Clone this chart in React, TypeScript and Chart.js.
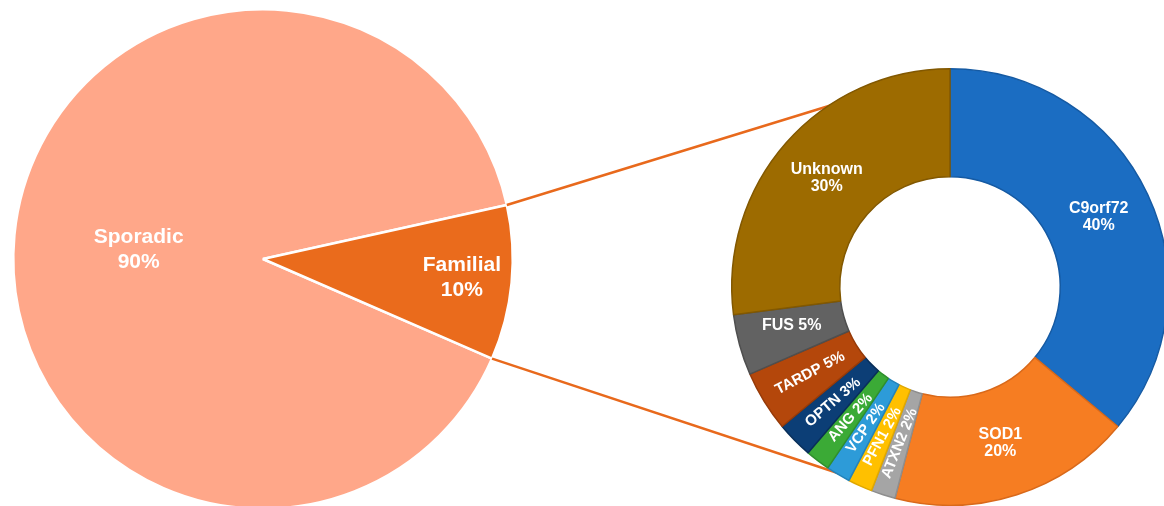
import React, { useEffect, useRef } from "react";
import { Chart, ArcElement, PieController, DoughnutController } from "chart.js";

Chart.register(ArcElement, PieController, DoughnutController);

// ---- data ----
const caseLabels = ["Sporadic", "Familial"];
const caseValues = [90, 10];
const caseColors = ["#FFA789", "#EA6B1C"];
const caseLabelRadius = [0.5, 0.8];
const caseLabelNudgeY = [3, 0];

const geneLabels = ["C9orf72", "SOD1", "ATXN2", "PFN1", "VCP", "ANG", "OPTN", "TARDP", "FUS", "Unknown"];
const geneValues = [40, 20, 2, 2, 2, 2, 3, 5, 5, 30];
const geneColors = ["#1B6DC2", "#F67D22", "#A5A5A5", "#FFC000", "#2D9BD8", "#3BAA36", "#0C3E76", "#B4470B", "#626262", "#9D6B00"];
const geneBorders = ["#155AA3", "#D9691A", "#8E8E8E", "#E0A800", "#2383BA", "#2F8F2C", "#082E59", "#963A08", "#4F4F4F", "#825800"];
// "stack": name over percent, "inline": one horizontal line, "radial": one line along the radius
const geneLabelModes = ["stack", "stack", "radial", "radial", "radial", "radial", "radial", "radial", "inline", "stack"];

// connector end points on the donut rim, degrees clockwise from 12 o'clock
const connectorAngles = [327.7, 209.9];

const FONT = '"Liberation Sans", Arial, Helvetica, sans-serif';

function makeLabelPlugin(kind: "pie" | "donut") {
  return {
    id: "sliceLabels" + kind,
    afterDatasetsDraw(chart: any) {
      const ctx = chart.ctx;
      const meta = chart.getDatasetMeta(0);
      ctx.save();
      ctx.fillStyle = "#ffffff";
      ctx.textAlign = "center";
      ctx.textBaseline = "middle";
      meta.data.forEach((arc: any, i: number) => {
        const p = arc.getProps(["x", "y", "startAngle", "endAngle", "innerRadius", "outerRadius"], true);
        const mid = (p.startAngle + p.endAngle) / 2;
        if (kind === "pie") {
          const r = p.outerRadius * caseLabelRadius[i];
          const cx = p.x + r * Math.cos(mid);
          const cy = p.y + r * Math.sin(mid) + caseLabelNudgeY[i];
          ctx.font = "bold 21px " + FONT;
          ctx.fillText(caseLabels[i], cx, cy - 12.5);
          ctx.fillText(caseValues[i] + "%", cx, cy + 12.5);
        } else {
          const r = (p.innerRadius + p.outerRadius) / 2;
          const cx = p.x + r * Math.cos(mid);
          const cy = p.y + r * Math.sin(mid);
          const mode = geneLabelModes[i];
          const txt = geneLabels[i] + " " + geneValues[i] + "%";
          if (mode === "stack") {
            ctx.font = "bold 16px " + FONT;
            ctx.fillText(geneLabels[i], cx, cy - 8.5);
            ctx.fillText(geneValues[i] + "%", cx, cy + 8.5);
          } else if (mode === "inline") {
            ctx.font = "bold 16px " + FONT;
            ctx.fillText(txt, cx, cy - 5);
          } else {
            ctx.font = "bold 15px " + FONT;
            ctx.save();
            ctx.translate(cx, cy);
            ctx.rotate(mid + Math.PI + (4 * Math.PI) / 180);
            ctx.fillText(txt, 0, 0);
            ctx.restore();
          }
        }
      });
      ctx.restore();
    },
  };
}

export default function App() {
  const pieRef = useRef<HTMLCanvasElement | null>(null);
  const donutRef = useRef<HTMLCanvasElement | null>(null);

  useEffect(() => {
    if (!pieRef.current || !donutRef.current) return;

    const pie = new Chart(pieRef.current, {
      type: "pie",
      data: {
        labels: caseLabels,
        datasets: [
          {
            data: caseValues,
            backgroundColor: caseColors,
            borderColor: "#ffffff",
            borderWidth: 2.5,
          },
        ],
      },
      options: {
        responsive: false,
        animation: false,
        rotation: 113.5,
        layout: { padding: { left: 12, top: 8, right: 650, bottom: 10 } },
        plugins: { legend: { display: false }, tooltip: { enabled: false } },
        events: [],
      },
      plugins: [makeLabelPlugin("pie")],
    } as any);

    const connectorPlugin = {
      id: "connectors",
      beforeDatasetsDraw(chart: any) {
        const fam = pie.getDatasetMeta(0).data[1] as any;
        const ring = chart.getDatasetMeta(0).data[0] as any;
        if (!fam || !ring) return;
        const f = fam.getProps(["x", "y", "startAngle", "endAngle", "outerRadius"], true);
        const d = ring.getProps(["x", "y", "outerRadius"], true);
        const starts = [f.startAngle, f.endAngle];
        const ctx = chart.ctx;
        ctx.save();
        ctx.strokeStyle = "#E8691C";
        ctx.lineWidth = 2.5;
        starts.forEach((a: number, i: number) => {
          const sx = f.x + f.outerRadius * Math.cos(a);
          const sy = f.y + f.outerRadius * Math.sin(a);
          const b = ((connectorAngles[i] - 90) * Math.PI) / 180;
          const ex = d.x + (d.outerRadius - 2) * Math.cos(b);
          const ey = d.y + (d.outerRadius - 2) * Math.sin(b);
          ctx.beginPath();
          ctx.moveTo(sx, sy);
          ctx.lineTo(ex, ey);
          ctx.stroke();
        });
        ctx.restore();
      },
    };

    const donut = new Chart(donutRef.current, {
      type: "doughnut",
      data: {
        labels: geneLabels,
        datasets: [
          {
            data: geneValues,
            backgroundColor: geneColors,
            borderColor: geneBorders,
            borderWidth: 1.5,
          },
        ],
      },
      options: {
        responsive: false,
        animation: false,
        rotation: 0,
        cutout: "50.5%",
        layout: { padding: { left: 731, top: 68, right: 11, bottom: 14 } },
        plugins: { legend: { display: false }, tooltip: { enabled: false } },
        events: [],
      },
      plugins: [connectorPlugin, makeLabelPlugin("donut")],
    } as any);

    return () => {
      donut.destroy();
      pie.destroy();
    };
  }, []);

  return (
    <div
      style={{
        position: "absolute",
        left: 0,
        top: 0,
        width: 1164,
        height: 506,
        overflow: "hidden",
        background: "#ffffff",
      }}
    >
      <canvas
        ref={pieRef}
        width={1164}
        height={520}
        style={{ position: "absolute", left: 0, top: 0, width: 1164, height: 520 }}
      />
      <canvas
        ref={donutRef}
        width={1180}
        height={520}
        style={{ position: "absolute", left: 0, top: 0, width: 1180, height: 520 }}
      />
    </div>
  );
}
